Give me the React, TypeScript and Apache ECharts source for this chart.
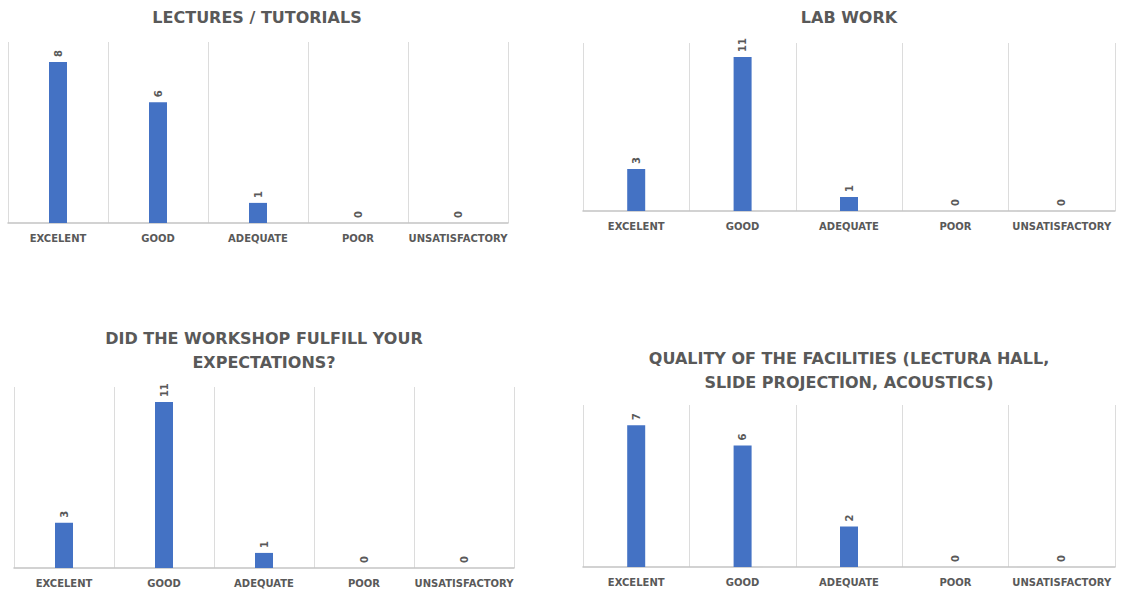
import React, { useEffect, useRef } from "react";
import * as echarts from "echarts";

const categories = ["EXCELENT", "GOOD", "ADEQUATE", "POOR", "UNSATISFACTORY"];

const lecturesTitle = "LECTURES / TUTORIALS";
const lecturesValues = [8, 6, 1, 0, 0];

const labWorkTitle = "LAB WORK";
const labWorkValues = [3, 11, 1, 0, 0];

const expectationsTitle = "DID THE WORKSHOP FULFILL YOUR\nEXPECTATIONS?";
const expectationsValues = [3, 11, 1, 0, 0];

const facilitiesTitle = "QUALITY OF THE FACILITIES (LECTURA HALL,\nSLIDE PROJECTION, ACOUSTICS)";
const facilitiesValues = [7, 6, 2, 0, 0];

const axisMax = [9, 12, 12, 8];

const TEXT = "#595959";
const BAR = "#4472C4";
const FONT = "'DejaVu Sans', 'Liberation Sans', sans-serif";

// Layout of each of the four small charts: plot rectangle and title anchor.
const panels = [
  { title: lecturesTitle, values: lecturesValues, grid: { left: 8, right: 614, top: 42, bottom: 370 }, titleX: 257, titleTop: 5 },
  { title: labWorkTitle, values: labWorkValues, grid: { left: 583, right: 7, top: 43, bottom: 382 }, titleX: 849, titleTop: 5 },
  { title: expectationsTitle, values: expectationsValues, grid: { left: 14, right: 608, top: 387, bottom: 25 }, titleX: 264, titleTop: 326 },
  { title: facilitiesTitle, values: facilitiesValues, grid: { left: 583, right: 7, top: 405, bottom: 26 }, titleX: 849, titleTop: 346 },
];

export default function App() {
  const ref = useRef<HTMLDivElement>(null);

  useEffect(() => {
    if (!ref.current) return;
    const chart = echarts.init(ref.current, undefined, { renderer: "svg" });

    chart.setOption({
      animation: false,
      backgroundColor: "#ffffff",
      title: panels.map((p) => ({
        text: p.title,
        left: p.titleX,
        top: p.titleTop,
        textAlign: "center",
        padding: 0,
        textStyle: {
          fontFamily: FONT,
          fontSize: 16,
          fontWeight: "bold",
          color: TEXT,
          lineHeight: 24,
        },
      })),
      grid: panels.map((p) => ({ ...p.grid, containLabel: false })),
      xAxis: panels.map((_, i) => ({
        type: "category",
        gridIndex: i,
        data: categories,
        boundaryGap: true,
        axisTick: { show: false },
        axisLine: { show: true, lineStyle: { color: "#c4c4c4", width: 1.5 } },
        splitLine: { show: true, lineStyle: { color: "#dcdcdc", width: 1 } },
        axisLabel: {
          interval: 0,
          margin: 10,
          fontFamily: FONT,
          fontSize: 10,
          fontWeight: "bold",
          color: TEXT,
        },
      })),
      yAxis: panels.map((_, i) => ({
        type: "value",
        gridIndex: i,
        min: 0,
        max: axisMax[i],
        show: false,
        splitLine: { show: false },
      })),
      series: panels.map((p, i) => ({
        type: "bar",
        xAxisIndex: i,
        yAxisIndex: i,
        data: p.values,
        barWidth: 18,
        itemStyle: { color: BAR },
        label: {
          show: true,
          position: "top",
          rotate: 90,
          distance: 5,
          align: "left",
          verticalAlign: "middle",
          fontFamily: FONT,
          fontSize: 10,
          fontWeight: "bold",
          color: TEXT,
        },
      })),
    });

    return () => chart.dispose();
  }, []);

  return (
    <div
      ref={ref}
      style={{ position: "fixed", left: 0, top: 0, width: 1122, height: 593 }}
    />
  );
}
